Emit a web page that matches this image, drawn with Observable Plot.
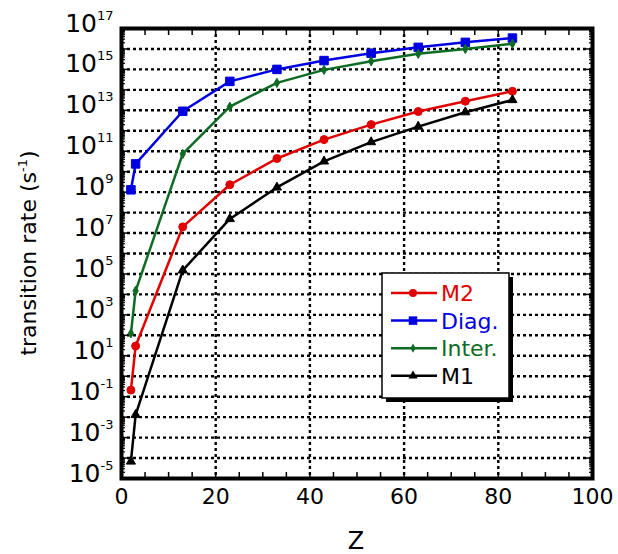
<!DOCTYPE html>
<html><head><meta charset="utf-8">
<script src="https://cdn.jsdelivr.net/npm/d3@7"></script>
<script src="https://cdn.jsdelivr.net/npm/@observablehq/plot@0.6"></script>
<style>body{margin:0;background:#fff;} svg{display:block}</style>
</head><body><div id="chart"></div>
<script>
// ---- data ----
const Z = [2, 3, 13, 23, 33, 43, 53, 63, 73, 83];
const seriesNames = ["M2", "Diag.", "Inter.", "M1"];
const M2 =    [0.21, 30, 2.0e7, 2.3e9, 4.4e10, 3.7e11, 2.0e12, 8.7e12, 2.8e13, 8.5e13];
const Diag =  [1.3e9, 2.4e10, 9.0e12, 2.6e14, 1.0e15, 2.7e15, 6.2e15, 1.2e16, 2.1e16, 3.4e16];
const Inter = [125, 1.5e4, 7.4e10, 1.5e13, 2.2e14, 9.5e14, 2.5e15, 5.8e15, 1.0e16, 1.8e16];
const M1 =    [6.8e-5, 1.3e-2, 1.5e5, 4.9e7, 1.7e9, 3.2e10, 2.8e11, 1.6e12, 8.1e12, 3.2e13];
const xTickLabels = [0, 20, 40, 60, 80, 100];
const yTickExponents = [-5, -3, -1, 1, 3, 5, 7, 9, 11, 13, 15, 17];

// ---- styling ----
const seriesValues = [M2, Diag, Inter, M1];
const colors = ["#e00000", "#0000e0", "#0d6b24", "#000000"];
const symbols = ["circle", "square", "diamond", "triangle"];
const radii = [4, 4.8, 2.8, 3.4];
const font = "DejaVu Sans";

const rows = [];
seriesNames.forEach((s, i) => Z.forEach((z, j) => rows.push({series: s, z, v: seriesValues[i][j]})));

const decades = d3.range(-5, 18).map(e => Math.pow(10, e));
const minor = [];
for (let e = -5; e < 17; e++) for (let m = 2; m <= 9; m++) minor.push(m * Math.pow(10, e));
const xMinor = d3.range(0, 101, 5);
const grid = {stroke: "black", strokeOpacity: 1, strokeWidth: 2.4, strokeDasharray: "3,3"};

const seriesMarks = [];
seriesNames.forEach((s, i) => {
  const data = rows.filter(d => d.series === s);
  seriesMarks.push(Plot.line(data, {x: "z", y: "v", stroke: colors[i], strokeWidth: 2.5}));
  seriesMarks.push(Plot.dot(data, {x: "z", y: "v", fill: colors[i], stroke: colors[i], strokeWidth: 1, symbol: symbols[i], r: radii[i]}));
});

const plot = Plot.plot({
  width: 618, height: 554,
  marginLeft: 121, marginRight: 26, marginTop: 28, marginBottom: 76,
  style: {background: "white", fontFamily: font, color: "black"},
  x: {domain: [0, 100], label: null},
  y: {type: "log", domain: [1e-5, 1e17], label: null},
  marks: [
    Plot.gridY(decades.slice(1, -1), grid),
    Plot.gridX([20, 40, 60, 80], grid),
    Plot.axisX(xMinor, {anchor: "bottom", tickSize: -6, strokeWidth: 1.5, tickFormat: () => "", label: null}),
    Plot.axisX(xMinor, {anchor: "top", tickSize: -6, strokeWidth: 1.5, tickFormat: () => "", label: null}),
    Plot.axisX(xTickLabels, {anchor: "bottom", tickSize: 0, tickPadding: 10, fontSize: 22, label: null}),
    Plot.axisY(decades, {anchor: "left", tickSize: -8, strokeWidth: 1.5, tickFormat: () => "", label: null}),
    Plot.axisY(minor, {anchor: "left", tickSize: -4, strokeWidth: 1.2, tickFormat: () => "", label: null}),
    Plot.axisY(decades, {anchor: "right", tickSize: -8, strokeWidth: 1.5, tickFormat: () => "", label: null}),
    Plot.axisY(minor, {anchor: "right", tickSize: -4, strokeWidth: 1.2, tickFormat: () => "", label: null}),
    Plot.axisY(yTickExponents.map(e => Math.pow(10, e)), {anchor: "left", tickSize: 0, tickPadding: 8, fontSize: 25, label: null,
      tickFormat: d => String(Math.round(Math.log10(d)))}),
    ...seriesMarks,
    Plot.frame({stroke: "black", strokeWidth: 4})
  ]
});

const svg = d3.select(plot);
// remove empty tick texts, superscript the labelled ones
svg.selectAll('g[aria-label$="tick label"] text').each(function() {
  const t = d3.select(this);
  if (t.text() === "") t.remove();
});
svg.selectAll('g[aria-label="y-axis tick label"] text').each(function() {
  const t = d3.select(this);
  const exp = t.text();
  if (exp === "") return;
  t.text("");
  t.append("tspan").attr("dy", "-5").text("10");
  t.append("tspan").attr("dy", "-12").attr("font-size", 13).text(exp);
});

// axis titles
svg.append("text")
  .attr("transform", "translate(36,253) rotate(-90)")
  .attr("text-anchor", "middle").attr("font-family", font).attr("font-size", 22).attr("fill", "black")
  .call(t => {
    t.append("tspan").text("transition rate (s");
    t.append("tspan").attr("dy", -9).attr("font-size", 13).text("-1");
    t.append("tspan").attr("dy", 9).text(")");
  });
svg.append("text")
  .attr("x", 356).attr("y", 549).attr("text-anchor", "middle")
  .attr("font-family", font).attr("font-size", 24).attr("fill", "black").text("Z");

// legend
const lg = svg.append("g");
lg.append("rect").attr("x", 386).attr("y", 277).attr("width", 127).attr("height", 125).attr("fill", "black");
lg.append("rect").attr("x", 382).attr("y", 273).attr("width", 127).attr("height", 125)
  .attr("fill", "white").attr("stroke", "black").attr("stroke-width", 1.5);
seriesNames.forEach((s, i) => {
  const y = 293 + i * 27.6;
  lg.append("line").attr("x1", 391).attr("x2", 437).attr("y1", y).attr("y2", y)
    .attr("stroke", colors[i]).attr("stroke-width", 2.5);
  const sym = {circle: d3.symbolCircle, square: d3.symbolSquare, diamond: d3.symbolDiamond, triangle: d3.symbolTriangle}[symbols[i]];
  lg.append("path").attr("d", d3.symbol(sym, Math.PI * radii[i] * radii[i])())
    .attr("transform", `translate(413,${y})`).attr("fill", colors[i]);
  lg.append("text").attr("x", 441).attr("y", y).attr("dy", "0.36em").attr("text-anchor", "start")
    .attr("font-family", font).attr("font-size", 22).attr("fill", colors[i]).text(s);
});

document.getElementById("chart").appendChild(plot);
</script>
</body></html>
